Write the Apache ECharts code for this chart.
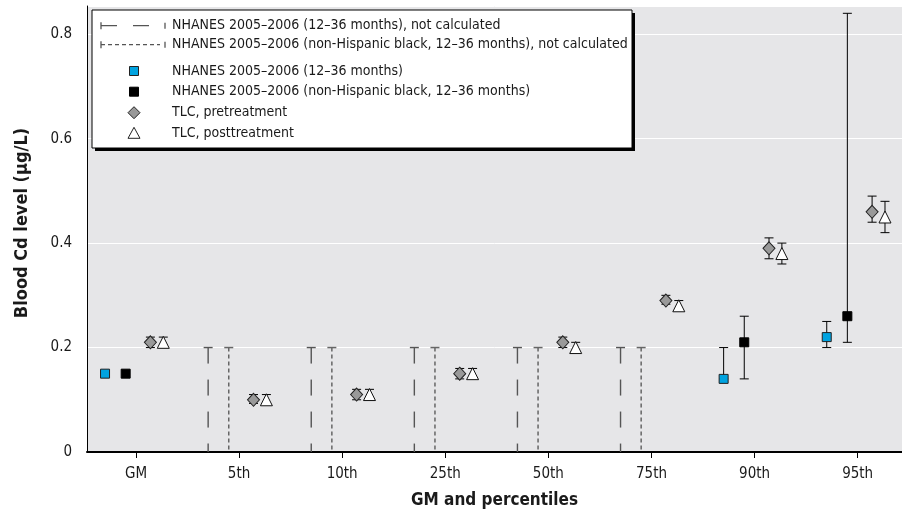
<!DOCTYPE html>
<html lang="en">
<head>
<meta charset="UTF-8" />
<title>Blood Cd level</title>
<script src="https://cdn.jsdelivr.net/npm/echarts@6/dist/echarts.min.js"></script>
<style>
  html, body { margin: 0; padding: 0; background: #fff; }
  #chart { width: 902px; height: 514px; }
</style>
</head>
<body>
<div id="chart"></div>
<script>
const FONT = "'Liberation Sans Narrow', 'DejaVu Sans Condensed', 'Arial Narrow', sans-serif";

const categories = ["GM", "5th", "10th", "25th", "50th", "75th", "90th", "95th"];
const yTicks = [0, 0.2, 0.4, 0.6, 0.8];

// NHANES 2005-2006 (12-36 months)
const nhanes = [0.15, null, null, null, null, null, 0.14, 0.22];
const nhanesLo = [null, null, null, null, null, null, 0.14, 0.20];
const nhanesHi = [null, null, null, null, null, null, 0.20, 0.25];
// NHANES 2005-2006 (non-Hispanic black, 12-36 months)
const black = [0.15, null, null, null, null, null, 0.21, 0.26];
const blackLo = [null, null, null, null, null, null, 0.14, 0.21];
const blackHi = [null, null, null, null, null, null, 0.26, 0.84];
// "not calculated" markers reach up to this level
const nhanesNotCalc = [null, 0.2, 0.2, 0.2, 0.2, 0.2, null, null];
const blackNotCalc = [null, 0.2, 0.2, 0.2, 0.2, 0.2, null, null];
// TLC
const pre = [0.21, 0.10, 0.11, 0.15, 0.21, 0.29, 0.39, 0.46];
const preLo = [0.20, 0.093, 0.10, 0.14, 0.20, 0.283, 0.37, 0.44];
const preHi = [0.22, 0.11, 0.12, 0.16, 0.22, 0.30, 0.41, 0.49];
const post = [0.21, 0.10, 0.11, 0.15, 0.20, 0.28, 0.38, 0.45];
const postLo = [0.20, 0.093, 0.10, 0.14, 0.19, 0.273, 0.36, 0.42];
const postHi = [0.22, 0.11, 0.12, 0.16, 0.21, 0.29, 0.40, 0.48];

// horizontal offset of each group inside a category
const OFF = { nhanes: -0.30, black: -0.10, pre: 0.14, post: 0.265 };

function points(vals, off) {
  const out = [];
  vals.forEach((v, i) => { if (v != null) out.push([i + 1 + off, v]); });
  return out;
}
function ranges(lo, hi, off) {
  const out = [];
  lo.forEach((l, i) => { if (l != null && hi[i] != null) out.push([i + 1 + off, l, hi[i]]); });
  return out;
}
function stems(tops, off) {
  const out = [];
  tops.forEach((t, i) => { if (t != null) out.push([i + 1 + off, 0, t]); });
  return out;
}

function barRenderer(color, width, dash, bottomCap) {
  return function (params, api) {
    const x = api.value(0);
    const top = api.coord([x, api.value(2)]);
    const bot = api.coord([x, api.value(1)]);
    const hw = 4.5;
    const st = { stroke: color, lineWidth: width };
    const kids = [
      { type: "line", shape: { x1: top[0], y1: top[1], x2: bot[0], y2: bot[1] },
        style: Object.assign({ lineDash: dash || null }, st) },
      { type: "line", shape: { x1: top[0] - hw, y1: top[1], x2: top[0] + hw, y2: top[1] }, style: st }
    ];
    if (bottomCap) {
      kids.push({ type: "line", shape: { x1: bot[0] - hw, y1: bot[1], x2: bot[0] + hw, y2: bot[1] }, style: st });
    }
    return { type: "group", children: kids };
  };
}

function barSeries(name, data, color, width, dash, bottomCap) {
  return {
    name: name, type: "custom", data: data,
    encode: { x: 0, y: [1, 2] },
    renderItem: barRenderer(color, width, dash, bottomCap),
    silent: true, z: 2
  };
}

function markSeries(name, data, symbol, size, fill, border) {
  return {
    name: name, type: "scatter", data: data,
    symbol: symbol, symbolSize: size,
    itemStyle: { color: fill, borderColor: border, borderWidth: 1, opacity: 1 },
    z: 5
  };
}

// hand-built legend box
const LX = 92, LY = 10, LW = 540, LH = 138;
const rowY = [25.7, 44.7, 71, 91.7, 112.7, 133.3];
const legendText = [
  "NHANES 2005–2006 (12–36 months), not calculated",
  "NHANES 2005–2006 (non-Hispanic black, 12–36 months), not calculated",
  "NHANES 2005–2006 (12–36 months)",
  "NHANES 2005–2006 (non-Hispanic black, 12–36 months)",
  "TLC, pretreatment",
  "TLC, posttreatment"
];
const legendEls = [
  { type: "rect", shape: { x: LX + 3, y: LY + 3, width: LW, height: LH }, style: { fill: "#000" }, z: 100 },
  { type: "rect", shape: { x: LX, y: LY, width: LW, height: LH }, style: { fill: "#fff", stroke: "#000", lineWidth: 1 }, z: 101 }
];
function hLineIcon(y, dash, color) {
  legendEls.push(
    { type: "line", shape: { x1: 101, y1: y, x2: 160, y2: y }, style: { stroke: color, lineWidth: 1.3, lineDash: dash }, z: 102 },
    { type: "line", shape: { x1: 101, y1: y - 3.5, x2: 101, y2: y + 3.5 }, style: { stroke: color, lineWidth: 1.3 }, z: 102 },
    { type: "line", shape: { x1: 165, y1: y - 3, x2: 165, y2: y + 3 }, style: { stroke: color, lineWidth: 1.3 }, z: 102 }
  );
}
hLineIcon(rowY[0], [16, 16], "#555");
hLineIcon(rowY[1], [4, 3], "#555");
legendEls.push(
  { type: "rect", shape: { x: 129.5, y: rowY[2] - 4.5, width: 9, height: 9 }, style: { fill: "#00a3e0", stroke: "#222", lineWidth: 1 }, z: 102 },
  { type: "rect", shape: { x: 129.5, y: rowY[3] - 4.5, width: 9, height: 9 }, style: { fill: "#000", stroke: "#000", lineWidth: 1 }, z: 102 },
  { type: "polygon", shape: { points: [[134, rowY[4] - 6], [140, rowY[4]], [134, rowY[4] + 6], [128, rowY[4]]] }, style: { fill: "#999", stroke: "#222", lineWidth: 1 }, z: 102 },
  { type: "polygon", shape: { points: [[134, rowY[5] - 6], [140, rowY[5] + 5], [128, rowY[5] + 5]] }, style: { fill: "#fff", stroke: "#222", lineWidth: 1 }, z: 102 }
);
legendText.forEach((t, i) => {
  legendEls.push({
    type: "text", x: 172, y: rowY[i], z: 102,
    style: { text: t, fill: "#1a1a1a", font: "14px " + FONT, verticalAlign: "middle" }
  });
});

const chart = echarts.init(document.getElementById("chart"), null, { renderer: "canvas" });
chart.setOption({
  animation: false,
  backgroundColor: "#fff",
  textStyle: { fontFamily: FONT },
  grid: {
    left: 87, right: 0, top: 6, bottom: 62,
    outerBoundsMode: "none", containLabel: false,
    show: true, backgroundColor: "#e6e6e8", borderWidth: 0
  },
  xAxis: {
    type: "value", min: 0.525, max: 8.43,
    name: "GM and percentiles", nameLocation: "middle", nameGap: 40,
    nameTextStyle: { fontFamily: FONT, fontSize: 17, fontWeight: "bold", color: "#1a1a1a" },
    axisLine: { lineStyle: { color: "#000", width: 2 } },
    axisTick: { show: true, length: 6, lineStyle: { color: "#000", width: 1 }, customValues: [1, 2, 3, 4, 5, 6, 7, 8] },
    axisLabel: {
      customValues: [1, 2, 3, 4, 5, 6, 7, 8], margin: 15,
      fontFamily: FONT, fontSize: 15, color: "#1a1a1a",
      formatter: (v) => categories[Math.round(v) - 1]
    },
    splitLine: { show: false }
  },
  yAxis: {
    type: "value", min: 0, max: 0.854,
    name: "Blood Cd level (μg/L)", nameLocation: "middle", nameGap: 56,
    nameTextStyle: { fontFamily: FONT, fontSize: 18, fontWeight: "bold", color: "#1a1a1a", padding: [0, 0, 0, 12] },
    axisLine: { show: true, lineStyle: { color: "#000", width: 1 } },
    axisTick: { show: false },
    axisLabel: {
      customValues: yTicks, margin: 15,
      fontFamily: FONT, fontSize: 15, color: "#1a1a1a",
      formatter: (v) => (v === 0 ? "0" : v.toFixed(1))
    },
    splitLine: { show: true, lineStyle: { color: "#fff", width: 1 } }
  },
  graphic: legendEls,
  series: [
    barSeries("nhanesNotCalc", stems(nhanesNotCalc, OFF.nhanes), "#555", 1.4, [16, 16], false),
    barSeries("blackNotCalc", stems(blackNotCalc, OFF.black), "#666", 1.5, [4, 3], false),
    barSeries("nhanesBars", ranges(nhanesLo, nhanesHi, OFF.nhanes), "#000", 1, null, true),
    barSeries("blackBars", ranges(blackLo, blackHi, OFF.black), "#000", 1, null, true),
    barSeries("preBars", ranges(preLo, preHi, OFF.pre), "#000", 1, null, true),
    barSeries("postBars", ranges(postLo, postHi, OFF.post), "#000", 1, null, true),
    markSeries("NHANES 2005–2006 (12–36 months)", points(nhanes, OFF.nhanes), "rect", 9, "#00a3e0", "#222"),
    markSeries("NHANES 2005–2006 (non-Hispanic black, 12–36 months)", points(black, OFF.black), "rect", 9, "#000", "#000"),
    markSeries("TLC, pretreatment", points(pre, OFF.pre), "diamond", [12, 13], "#999", "#222"),
    markSeries("TLC, posttreatment", points(post, OFF.post), "triangle", [12, 12], "#fff", "#111")
  ]
});
</script>
</body>
</html>
